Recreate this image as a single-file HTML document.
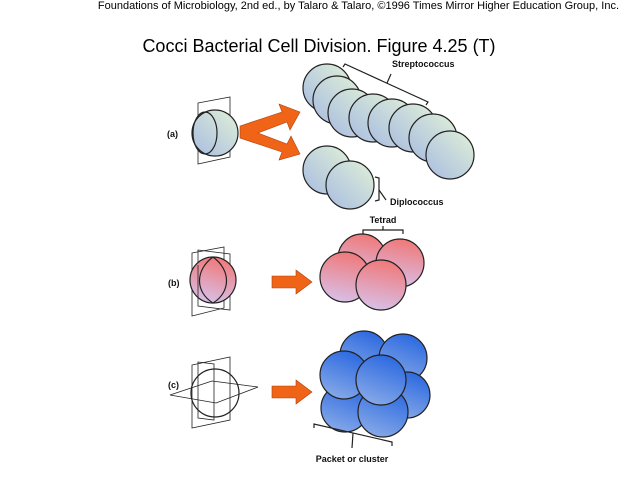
<!DOCTYPE html>
<html><head><style>body{margin:0;background:#fff}svg{display:block}</style></head><body>
<svg width="640" height="480" viewBox="0 0 640 480" xmlns="http://www.w3.org/2000/svg" font-family="Liberation Sans, sans-serif">
<defs>
<linearGradient id="g" x1="1" y1="0" x2="0" y2="1"><stop offset="0" stop-color="#e0f0d8"/><stop offset="1" stop-color="#a8bce0"/></linearGradient>
<linearGradient id="p" x1="0.6" y1="0" x2="0.4" y2="1"><stop offset="0" stop-color="#f07878"/><stop offset="1" stop-color="#d8c0e8"/></linearGradient>
<linearGradient id="b" x1="0.7" y1="0" x2="0.3" y2="1"><stop offset="0" stop-color="#2a68e0"/><stop offset="1" stop-color="#88aae8"/></linearGradient>
</defs>
<text x="619" y="9" font-size="11" text-anchor="end">Foundations of Microbiology, 2nd ed., by Talaro &amp; Talaro, ©1996 Times Mirror Higher Education Group, Inc.</text>
<text x="319" y="52" font-size="18" text-anchor="middle">Cocci Bacterial Cell Division.  Figure 4.25 (T)</text>
<g stroke="#222" stroke-width="1.2">
<polygon points="198,103 230,97 230,157 198,164" fill="none" stroke-width="0.8"/>
<circle cx="215" cy="133" r="23" fill="url(#g)"/>
<ellipse cx="205" cy="133" rx="12" ry="21" fill="none"/>
<g fill="url(#g)">
<circle cx="327" cy="88" r="24"/><circle cx="337" cy="100" r="24"/><circle cx="352" cy="113" r="24"/><circle cx="373" cy="118" r="24"/><circle cx="392" cy="123" r="24"/><circle cx="413" cy="128" r="24"/><circle cx="433" cy="138" r="24"/><circle cx="450" cy="155" r="24"/>
<circle cx="327" cy="170" r="24"/><circle cx="350" cy="185" r="24"/>
</g>
<polyline points="343,67 345,64 428,102 426,105" fill="none"/><line x1="387" y1="83" x2="391" y2="74"/>
<polyline points="375,177 379,178 379,200 375,201" fill="none"/><line x1="379" y1="190" x2="386" y2="200"/>
<polygon points="192,253 224,247 224,308 192,316" fill="none" stroke-width="0.8"/>
<polygon points="198,250 230,254 230,310 198,306" fill="none" stroke-width="0.8"/>
<circle cx="213" cy="280" r="23" fill="url(#p)"/>
<path d="M213,257 C195,270 195,292 213,303 C231,292 231,270 213,257" fill="url(#p)"/>
<line x1="198" y1="265" x2="198" y2="298" stroke-width="0.8"/>
<g fill="url(#p)">
<circle cx="362" cy="258" r="24"/><circle cx="400" cy="263" r="24"/><circle cx="345" cy="277" r="25"/><circle cx="381" cy="285" r="25"/>
</g>
<polyline points="363,234 363,230 403,230 403,234" fill="none"/><line x1="383" y1="230" x2="383" y2="226"/>
<polygon points="192,365 230,357 230,420 192,428" fill="none" stroke-width="0.8"/>
<polygon points="198,362 214,364 214,420 198,418" fill="none" stroke-width="0.8"/>
<circle cx="215" cy="393" r="24" fill="none"/>
<polygon points="170,395 212,381 258,387 216,403" fill="none" stroke-width="0.8"/>
<g fill="url(#b)">
<circle cx="364" cy="355" r="24"/><circle cx="403" cy="358" r="24"/><circle cx="407" cy="395" r="23"/>
<circle cx="345" cy="408" r="24"/><circle cx="383" cy="412" r="25"/>
<circle cx="344" cy="375" r="24"/><circle cx="381" cy="380" r="25"/>
</g>
<polyline points="314,428 314,424 392,442 392,446" fill="none"/><line x1="353" y1="433" x2="352" y2="448"/>
</g>
<g fill="#f06418" stroke="#b04010" stroke-width="0.6">
<polygon points="240,126 282,112 279,104 300,112 290,130 287,122 258,133 287,144 291,136 300,154 279,160 282,152 240,138"/>
<polygon points="272,276 296,276 296,270 312,282 296,294 296,288 272,288"/>
<polygon points="272,386 296,386 296,380 312,392 296,404 296,398 272,398"/>
</g>
<g font-size="9" font-weight="bold" fill="#111">
<text x="167" y="137">(a)</text><text x="168" y="286">(b)</text><text x="168" y="388">(c)</text>
<text x="392" y="67">Streptococcus</text>
<text x="390" y="205">Diplococcus</text>
<text x="383" y="223" text-anchor="middle">Tetrad</text>
<text x="352" y="462" text-anchor="middle">Packet or cluster</text>
</g>
</svg>
</body></html>
